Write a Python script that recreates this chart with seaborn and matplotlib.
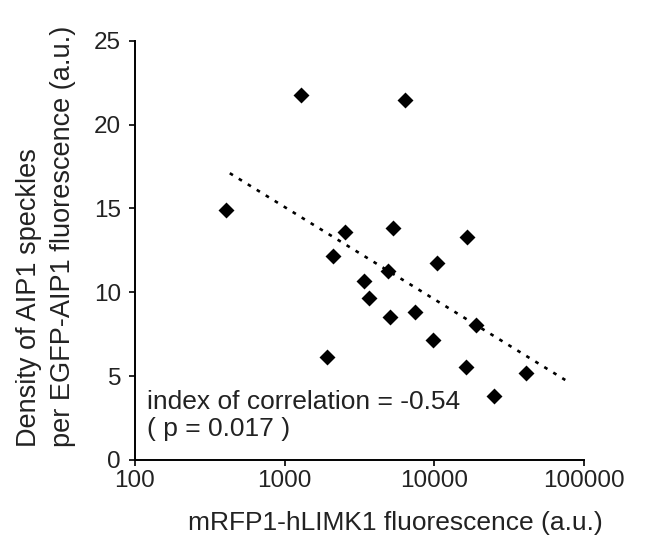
import numpy as np
import matplotlib
matplotlib.use("Agg")
import matplotlib.pyplot as plt
import seaborn as sns

# values
limk1 = [405, 1291, 6365, 2518, 5290, 16510, 2112, 10450, 4876, 3403,
         3640, 5077, 7418, 18960, 9732, 1926, 16260, 41100, 24900]
speckles = [14.89, 21.77, 21.49, 13.60, 13.83, 13.32, 12.16, 11.77, 11.29, 10.65,
            9.64, 8.55, 8.81, 8.05, 7.18, 6.16, 5.57, 5.19, 3.84]

trend_x = [430, 75000]
trend_y = [17.1, 4.77]

x_ticks = [100, 1000, 10000, 100000]
x_tick_labels = ["100", "1000", "10000", "100000"]
y_ticks = [0, 5, 10, 15, 20, 25]

sns.set_style("ticks")
plt.rcParams["font.family"] = ["Liberation Sans", "DejaVu Sans"]

fig = plt.figure(figsize=(6.63, 5.37), dpi=100)
ax = fig.add_axes([0.2036, 0.1434, 0.6772, 0.7808])

ax.plot(trend_x, trend_y, color="black", linewidth=1.9, linestyle=(0, (1.4, 2.6)))
sns.scatterplot(x=limk1, y=speckles, ax=ax, marker="D", s=66, color="black",
                edgecolor="black", linewidth=0, zorder=3)

ax.set_xscale("log")
ax.set_xlim(100, 100000)
ax.set_ylim(0, 25)
ax.set_xticks(x_ticks)
ax.set_xticklabels(x_tick_labels)
ax.set_yticks(y_ticks)
ax.minorticks_off()
ax.tick_params(axis="both", labelsize=17.5, length=4, width=1.2, color="black", labelcolor="#222222")
ax.tick_params(axis="x", pad=3)
ax.tick_params(axis="y", pad=6)

for side in ["top", "right"]:
    ax.spines[side].set_visible(False)
for side in ["left", "bottom"]:
    ax.spines[side].set_linewidth(1.4)
    ax.spines[side].set_color("black")

ax.set_xlabel("mRFP1-hLIMK1 fluorescence (a.u.)", fontsize=19, color="#222222")
ax.xaxis.set_label_coords(0.579, -0.122)

fig.text(0.069, 0.1676, "Density of AIP1 speckles\nper EGFP-AIP1 fluorescence (a.u.)",
         rotation=90, fontsize=19.5, color="#222222", ha="center", va="bottom",
         multialignment="left", linespacing=1.4)

ax.text(0.026, 0.168, "index of correlation = -0.54\n( p = 0.017 )", transform=ax.transAxes,
        fontsize=19, color="#222222", ha="left", va="top", linespacing=1.2)

fig.savefig("out.png", dpi=100)
